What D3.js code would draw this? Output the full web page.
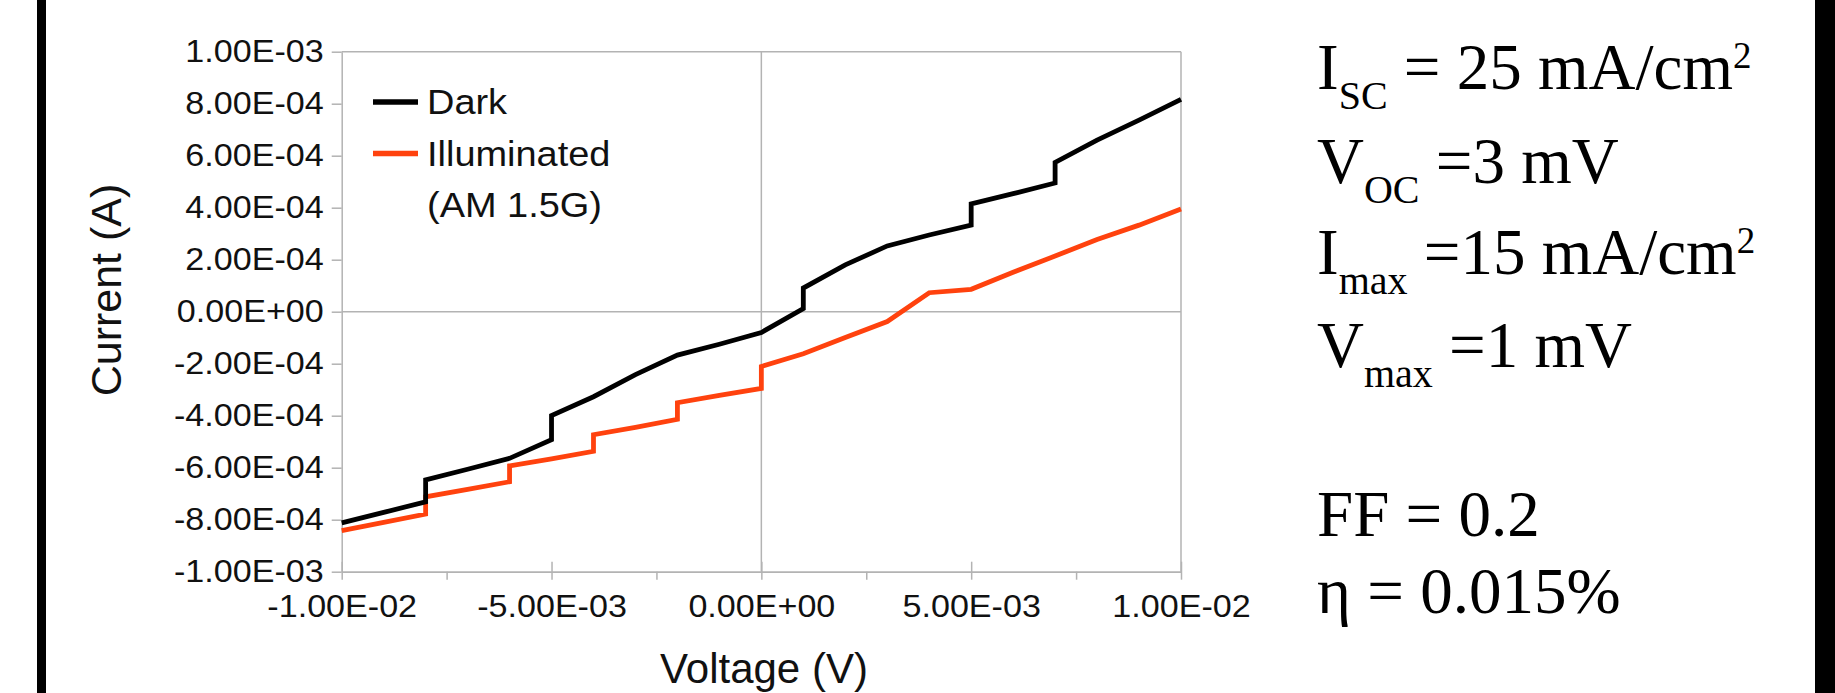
<!DOCTYPE html>
<html>
<head>
<meta charset="utf-8">
<script src="https://cdnjs.cloudflare.com/ajax/libs/d3/7.8.5/d3.min.js"></script>
<style>
  body { margin: 0; background: #fff; }
  svg { display: block; }
</style>
</head>
<body>
<div id="chart"></div>
<script>
// I-V sweep, dark vs illuminated (steps in the data are repeated voltages)
var darkV = [-0.010, -0.009, -0.008, -0.008, -0.007, -0.006, -0.005, -0.005, -0.004, -0.003, -0.002, -0.001, 0.000,
             0.001, 0.001, 0.002, 0.003, 0.004, 0.005, 0.005, 0.006, 0.007, 0.007, 0.008, 0.009, 0.010]
var darkI = [-8.12e-4, -7.72e-4, -7.31e-4, -6.47e-4, -6.06e-4, -5.64e-4, -4.92e-4, -3.99e-4, -3.27e-4, -2.42e-4, -1.67e-4, -1.25e-4, -0.80e-4,
             0.12e-4, 0.91e-4, 1.80e-4, 2.53e-4, 2.95e-4, 3.33e-4, 4.15e-4, 4.54e-4, 4.95e-4, 5.74e-4, 6.60e-4, 7.37e-4, 8.17e-4]

var illumV = [-0.010, -0.009, -0.008, -0.008, -0.007, -0.006, -0.006, -0.005, -0.004, -0.004, -0.003, -0.002, -0.002,
              -0.001, 0.000, 0.000, 0.001, 0.002, 0.003, 0.004, 0.005, 0.006, 0.007, 0.008, 0.009, 0.010]
var illumI = [-8.42e-4, -8.10e-4, -7.78e-4, -7.12e-4, -6.83e-4, -6.54e-4, -5.93e-4, -5.66e-4, -5.37e-4, -4.73e-4, -4.45e-4, -4.14e-4, -3.50e-4,
              -3.22e-4, -2.95e-4, -2.11e-4, -1.62e-4, -0.99e-4, -0.38e-4, 0.73e-4, 0.86e-4, 1.52e-4, 2.14e-4, 2.78e-4, 3.33e-4, 3.95e-4]

var xTicks = [-0.01, -0.005, 0, 0.005, 0.01]
var xMinorTicks = [-0.0075, -0.0025, 0.0025, 0.0075]
var yTicks = [-1e-3, -8e-4, -6e-4, -4e-4, -2e-4, 0, 2e-4, 4e-4, 6e-4, 8e-4, 1e-3]

var seriesNames = ['Dark', 'Illuminated']
var seriesColors = ['#000000', '#ff420e']

var results = [
  [{t: 'I'}, {t: 'SC', sub: true}, {t: ' = 25 mA/cm'}, {t: '2', sup: true}],
  [{t: 'V'}, {t: 'OC', sub: true}, {t: ' =3 mV'}],
  [{t: 'I'}, {t: 'max', sub: true}, {t: ' =15 mA/cm'}, {t: '2', sup: true}],
  [{t: 'V'}, {t: 'max', sub: true}, {t: ' =1 mV'}],
  [{t: 'FF = 0.2'}],
  [{t: '\u03b7 = 0.015%'}]
]
var resultBaselines = [89, 183, 274, 367, 536, 613]

var W = 1835, H = 693
var grid = '#b3b3b3'
var sx = 1.1  // chart text is a bit wide in the picture

var svg = d3.select('#chart').append('svg').attr('width', W).attr('height', H)
svg.append('rect').attr('width', W).attr('height', H).attr('fill', '#fff')

// black side bars of the slide
svg.append('rect').attr('x', 37).attr('y', 0).attr('width', 9).attr('height', H).attr('fill', '#000')
svg.append('rect').attr('x', 1815).attr('y', 0).attr('width', 20).attr('height', H).attr('fill', '#000')

var pLeft = 341.7, pRight = 1181, pTop = 51.7, pBottom = 571.7

var x = d3.scaleLinear().domain([-0.01, 0.01]).range([pLeft, pRight])
var y = d3.scaleLinear().domain([-1e-3, 1e-3]).range([pBottom, pTop])

function fmtE(v) {
  var s = v.toExponential(2).split('e')
  var e = s[1]
  var sign = e[0] === '-' ? '-' : '+'
  var digits = e.replace('-', '').replace('+', '')
  if (digits.length < 2) digits = '0' + digits
  return s[0] + 'E' + sign + digits
}

// frame + zero lines
svg.append('line').attr('x1', pLeft).attr('x2', pRight).attr('y1', pTop).attr('y2', pTop).attr('stroke', grid).attr('stroke-width', 1.5)
svg.append('line').attr('x1', pRight).attr('x2', pRight).attr('y1', pTop).attr('y2', pBottom).attr('stroke', grid).attr('stroke-width', 1.5)
svg.append('line').attr('x1', pLeft).attr('x2', pRight).attr('y1', y(0)).attr('y2', y(0)).attr('stroke', grid).attr('stroke-width', 1.5)
svg.append('line').attr('x1', x(0)).attr('x2', x(0)).attr('y1', pTop).attr('y2', pBottom).attr('stroke', grid).attr('stroke-width', 1.5)

// x axis
var gx = svg.append('g').attr('transform', 'translate(0,' + pBottom + ')')
  .call(d3.axisBottom(x).tickValues(xTicks).tickFormat(fmtE).tickSize(8).tickSizeOuter(0).tickPadding(15))
gx.selectAll('.tick line').attr('y1', -10)
var gxm = svg.append('g').attr('transform', 'translate(0,' + pBottom + ')')
  .call(d3.axisBottom(x).tickValues(xMinorTicks).tickFormat('').tickSize(8).tickSizeOuter(0))

// y axis
var gy = svg.append('g').attr('transform', 'translate(' + pLeft + ',0)')
  .call(d3.axisLeft(y).tickValues(yTicks).tickFormat(fmtE).tickSize(10).tickSizeOuter(0).tickPadding(8))

svg.selectAll('.domain').attr('stroke', grid).attr('stroke-width', 1.5)
svg.selectAll('.tick line').attr('stroke', grid).attr('stroke-width', 1.5)
svg.selectAll('.tick text')
  .attr('font-family', '"Liberation Sans", Arial, sans-serif')
  .attr('font-size', 31)
  .attr('fill', '#111')
gx.selectAll('.tick text').attr('transform', 'scale(' + sx + ',1)')
gy.selectAll('.tick text').attr('transform', 'scale(' + sx + ',1)').attr('x', -18 / sx)

// axis titles
svg.append('text').attr('x', 764).attr('y', 683).attr('text-anchor', 'middle')
  .attr('font-family', '"Liberation Sans", Arial, sans-serif').attr('font-size', 42).attr('fill', '#111')
  .text('Voltage (V)')
svg.append('text').attr('transform', 'translate(121,290) rotate(-90)').attr('text-anchor', 'middle')
  .attr('font-family', '"Liberation Sans", Arial, sans-serif').attr('font-size', 43).attr('fill', '#111')
  .text('Current (A)')

// curves
var line = d3.line().x(function (d) { return x(d[0]) }).y(function (d) { return y(d[1]) })
var illumPts = illumV.map(function (v, i) { return [v, illumI[i]] })
var darkPts = darkV.map(function (v, i) { return [v, darkI[i]] })

svg.append('path').datum(illumPts).attr('d', line).attr('fill', 'none')
  .attr('stroke', seriesColors[1]).attr('stroke-width', 4.8)
svg.append('path').datum(darkPts).attr('d', line).attr('fill', 'none')
  .attr('stroke', seriesColors[0]).attr('stroke-width', 4.8)

// legend
var leg = svg.append('g')
var legY = [102, 153.5]
seriesNames.forEach(function (name, i) {
  leg.append('line').attr('x1', 373).attr('x2', 418).attr('y1', legY[i]).attr('y2', legY[i])
    .attr('stroke', seriesColors[i]).attr('stroke-width', 5.5)
  leg.append('text').attr('transform', 'translate(427,' + legY[i] + ') scale(' + sx + ',1)')
    .attr('dy', '0.35em')
    .attr('font-family', '"Liberation Sans", Arial, sans-serif').attr('font-size', 34.5).attr('fill', '#111')
    .text(name)
})
leg.append('text').attr('transform', 'translate(427,205) scale(' + sx + ',1)')
  .attr('dy', '0.35em')
  .attr('font-family', '"Liberation Sans", Arial, sans-serif').attr('font-size', 34.5).attr('fill', '#111')
  .text('(AM 1.5G)')

// results text on the right
var rt = svg.append('g').attr('font-family', '"Liberation Serif", "Times New Roman", serif').attr('fill', '#000')
results.forEach(function (parts, i) {
  var t = rt.append('text').attr('x', 1317).attr('y', resultBaselines[i]).attr('font-size', 65)
  var shift = 0
  parts.forEach(function (p) {
    var ts = t.append('tspan').text(p.t)
    var want = p.sub ? 20 : (p.sup ? -21 : 0)
    ts.attr('dy', want - shift)
    shift = want
    if (p.sub) ts.attr('font-size', 40)
    if (p.sup) ts.attr('font-size', 37)
  })
})
</script>
</body>
</html>
